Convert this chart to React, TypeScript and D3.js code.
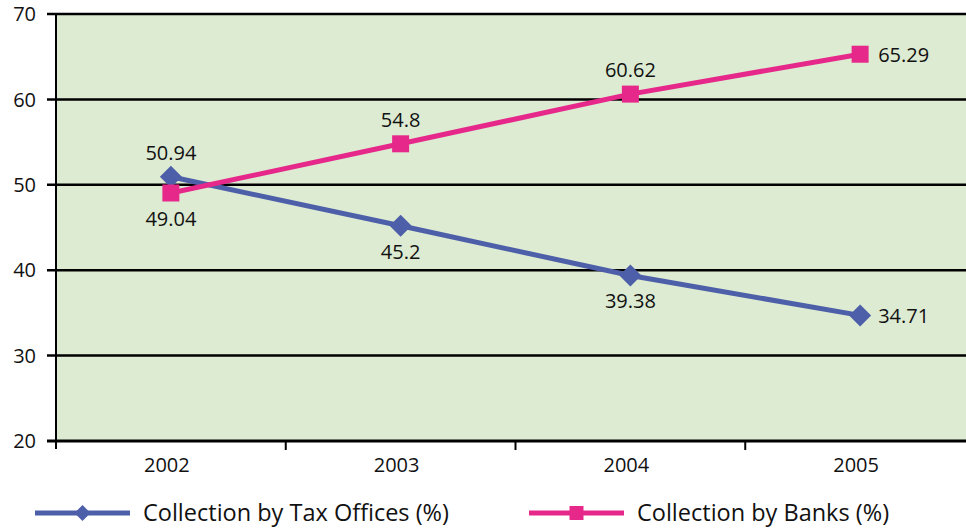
import { useRef, useEffect } from "react";
import * as d3 from "d3";

const years = ["2002", "2003", "2004", "2005"];
const taxOffices = [50.94, 45.2, 39.38, 34.71];
const banks = [49.04, 54.8, 60.62, 65.29];
const yTicks = [20, 30, 40, 50, 60, 70];
const seriesNames = ["Collection by Tax Offices (%)", "Collection by Banks (%)"];

const BLUE = "#4d5fa8";
const PINK = "#e6288a";
const FONT = "'Open Sans', sans-serif";

const App = () => {
  const chartRef = useRef<SVGSVGElement | null>(null);

  useEffect(() => {
    if (chartRef.current === null) return;
    const width = 966;
    const left = 56;
    const top = 14;
    const bottom = 441;

    const svg = d3.select(chartRef.current);
    svg.selectAll("*").remove();

    const x = d3.scaleBand().domain(years).range([left, 975]).padding(0);
    const y = d3.scaleLinear().domain([20, 70]).range([bottom, top]);
    const cx = (yr: string) => (x(yr) ?? 0) + x.bandwidth() / 2;

    // plot background
    svg
      .append("rect")
      .attr("x", left)
      .attr("y", top)
      .attr("width", width - left)
      .attr("height", bottom - top)
      .attr("fill", "#ddebd2");

    // gridlines
    svg
      .selectAll(".grid")
      .data(yTicks.slice(1))
      .enter()
      .append("line")
      .attr("x1", left - 9)
      .attr("x2", width)
      .attr("y1", (d) => y(d))
      .attr("y2", (d) => y(d))
      .attr("stroke", "#000")
      .attr("stroke-width", 2.5);

    // y axis
    svg
      .append("line")
      .attr("x1", left)
      .attr("x2", left)
      .attr("y1", top)
      .attr("y2", bottom + 8)
      .attr("stroke", "#000")
      .attr("stroke-width", 2);

    // x axis
    svg
      .append("line")
      .attr("x1", left - 9)
      .attr("x2", width)
      .attr("y1", bottom)
      .attr("y2", bottom)
      .attr("stroke", "#000")
      .attr("stroke-width", 3);

    // x ticks at band edges
    svg
      .selectAll(".xtick")
      .data(years.slice(1))
      .enter()
      .append("line")
      .attr("x1", (d) => x(d) ?? 0)
      .attr("x2", (d) => x(d) ?? 0)
      .attr("y1", bottom)
      .attr("y2", bottom + 9)
      .attr("stroke", "#000")
      .attr("stroke-width", 2);

    // y labels
    svg
      .selectAll(".ylab")
      .data(yTicks)
      .enter()
      .append("text")
      .attr("x", 36)
      .attr("y", (d) => y(d))
      .attr("dy", "0.36em")
      .attr("text-anchor", "end")
      .attr("font-family", FONT)
      .attr("font-size", 20)
      .attr("fill", "#111")
      .text((d) => d);

    // x labels
    svg
      .selectAll(".xlab")
      .data(years)
      .enter()
      .append("text")
      .attr("x", (d) => cx(d) - 4)
      .attr("y", 472)
      .attr("text-anchor", "middle")
      .attr("font-family", FONT)
      .attr("font-size", 20)
      .attr("fill", "#111")
      .text((d) => d);

    const line = d3
      .line<number>()
      .x((_, i) => cx(years[i]))
      .y((d) => y(d));

    svg
      .append("path")
      .attr("d", line(taxOffices))
      .attr("fill", "none")
      .attr("stroke", BLUE)
      .attr("stroke-width", 5);

    svg
      .append("path")
      .attr("d", line(banks))
      .attr("fill", "none")
      .attr("stroke", PINK)
      .attr("stroke-width", 5);

    const diamond = (px: number, py: number, r: number) =>
      `M${px},${py - r}L${px + r},${py}L${px},${py + r}L${px - r},${py}Z`;

    svg
      .selectAll(".diamond")
      .data(taxOffices)
      .enter()
      .append("path")
      .attr("d", (d, i) => diamond(cx(years[i]), y(d), 11))
      .attr("fill", BLUE);

    svg
      .selectAll(".square")
      .data(banks)
      .enter()
      .append("rect")
      .attr("x", (d, i) => cx(years[i]) - 8.5)
      .attr("y", (d) => y(d) - 8.5)
      .attr("width", 17)
      .attr("height", 17)
      .attr("fill", PINK);

    // value labels
    const label = (vals: number[], above: boolean[]) => {
      vals.forEach((v, i) => {
        const last = i === vals.length - 1;
        svg
          .append("text")
          .attr("x", last ? cx(years[i]) + 18 : cx(years[i]))
          .attr("y", last ? y(v) + 8 : above[i] ? y(v) - 17 : y(v) + 33)
          .attr("text-anchor", last ? "start" : "middle")
          .attr("font-family", FONT)
          .attr("font-size", 20)
          .attr("fill", "#111")
          .text(v);
      });
    };
    label(taxOffices, [true, false, false, false]);
    label(banks, [false, true, true, true]);

    // legend
    const legend = [
      { x1: 35, x2: 130, color: BLUE, shape: "diamond", tx: 143 },
      { x1: 529, x2: 624, color: PINK, shape: "square", tx: 637 },
    ];
    legend.forEach((l, i) => {
      const ly = 513;
      const mid = (l.x1 + l.x2) / 2;
      svg
        .append("line")
        .attr("x1", l.x1)
        .attr("x2", l.x2)
        .attr("y1", ly)
        .attr("y2", ly)
        .attr("stroke", l.color)
        .attr("stroke-width", 5);
      if (l.shape === "diamond") {
        svg.append("path").attr("d", diamond(mid, ly, 8)).attr("fill", l.color);
      } else {
        svg
          .append("rect")
          .attr("x", mid - 7)
          .attr("y", ly - 7)
          .attr("width", 14)
          .attr("height", 14)
          .attr("fill", l.color);
      }
      svg
        .append("text")
        .attr("x", l.tx)
        .attr("y", ly)
        .attr("dy", "0.36em")
        .attr("font-family", FONT)
        .attr("font-size", 23.5)
        .attr("fill", "#111")
        .text(seriesNames[i]);
    });
  }, []);

  return (
    <svg
      ref={chartRef}
      width={966}
      height={531}
      style={{ position: "absolute", left: 0, top: 0, background: "#fff" }}
    />
  );
};

export default App;
